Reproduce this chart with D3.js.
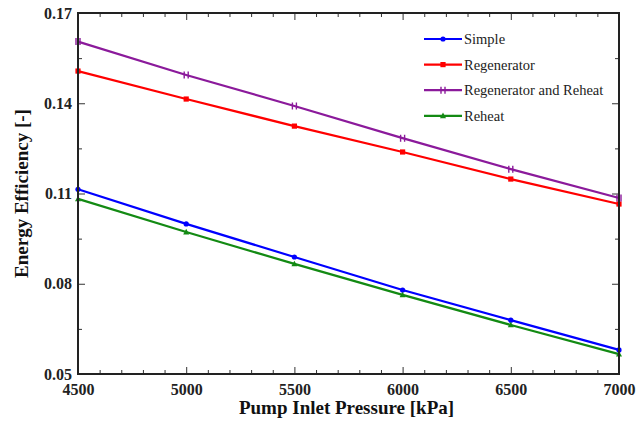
<!DOCTYPE html>
<html>
<head>
<meta charset="utf-8">
<script src="https://cdn.jsdelivr.net/npm/d3@7"></script>
<style>
  body { margin: 0; background: #fff; }
</style>
</head>
<body>
<svg id="chart" width="636" height="421"></svg>
<script>
// data
var pressure = [4500, 5000, 5500, 6000, 6500, 7000];
var simple = [0.1114, 0.0999, 0.0889, 0.0779, 0.0679, 0.0580];
var regenerator = [0.1507, 0.1414, 0.1324, 0.1238, 0.1148, 0.1065];
var regenReheat = [0.1605, 0.1494, 0.1391, 0.1284, 0.1181, 0.1085];
var reheat = [0.1082, 0.0972, 0.0866, 0.0763, 0.0663, 0.0566];
var yTicks = [0.05, 0.08, 0.11, 0.14, 0.17];
var xTicks = [4500, 5000, 5500, 6000, 6500, 7000];

var series = [
  {name: "Simple", values: simple, color: "#0000ff", marker: "circle"},
  {name: "Regenerator", values: regenerator, color: "#ff0000", marker: "square"},
  {name: "Regenerator and Reheat", values: regenReheat, color: "#8b1a9b", marker: "cross"},
  {name: "Reheat", values: reheat, color: "#138a13", marker: "triangle"}
];

var FONT = "'Liberation Serif', 'Times New Roman', Times, serif";

var svg = d3.select("#chart"),
    margin = {top: 13, right: 17, bottom: 47, left: 78},
    width = +svg.attr("width") - margin.left - margin.right,
    height = +svg.attr("height") - margin.top - margin.bottom,
    g = svg.append("g").attr("transform", "translate(" + margin.left + "," + margin.top + ")");

var x = d3.scaleLinear().domain([4500, 7000]).range([0, width]);
var y = d3.scaleLinear().domain([0.05, 0.17]).range([height, 0]);

var minorX = d3.range(4500, 7001, 100).filter(function(d) { return d % 500 !== 0; });
var minorY = d3.range(0.065, 0.17, 0.03);

// ticks on all four sides, pointing inward
function tickStyle(sel) {
  sel.select(".domain").remove();
  sel.selectAll("line").attr("stroke", "#333").attr("stroke-width", 1);
}
g.append("g").attr("transform", "translate(0," + height + ")")
    .call(d3.axisTop(x).tickValues(minorX).tickSize(4).tickFormat(""))
    .call(tickStyle);
g.append("g").attr("transform", "translate(0," + height + ")")
    .call(d3.axisTop(x).tickValues(xTicks).tickSize(7).tickFormat(""))
    .call(tickStyle);
g.append("g")
    .call(d3.axisBottom(x).tickValues(minorX).tickSize(4).tickFormat(""))
    .call(tickStyle);
g.append("g")
    .call(d3.axisBottom(x).tickValues(xTicks).tickSize(7).tickFormat(""))
    .call(tickStyle);
g.append("g")
    .call(d3.axisRight(y).tickValues(minorY).tickSize(4).tickFormat(""))
    .call(tickStyle);
g.append("g")
    .call(d3.axisRight(y).tickValues(yTicks).tickSize(7).tickFormat(""))
    .call(tickStyle);
g.append("g").attr("transform", "translate(" + width + ",0)")
    .call(d3.axisLeft(y).tickValues(minorY).tickSize(4).tickFormat(""))
    .call(tickStyle);
g.append("g").attr("transform", "translate(" + width + ",0)")
    .call(d3.axisLeft(y).tickValues(yTicks).tickSize(7).tickFormat(""))
    .call(tickStyle);

// tick labels
var xLab = g.append("g").attr("transform", "translate(0," + height + ")")
    .call(d3.axisBottom(x).tickValues(xTicks).tickSize(0).tickPadding(10).tickFormat(d3.format("d")));
xLab.attr("font-family", FONT).attr("font-size", 16);
xLab.select(".domain").remove();
xLab.selectAll("text").attr("font-weight", "bold").attr("fill", "#222");

var yLab = g.append("g")
    .call(d3.axisLeft(y).tickValues(yTicks).tickSize(0).tickPadding(6).tickFormat(d3.format(".2f")));
yLab.attr("font-family", FONT).attr("font-size", 16);
yLab.select(".domain").remove();
yLab.selectAll("text").attr("font-weight", "bold").attr("fill", "#222");

// lines
var line = d3.line()
    .x(function(d, i) { return x(pressure[i]); })
    .y(function(d) { return y(d); });

function drawMarker(sel, type, color) {
  if (type === "circle") {
    sel.append("circle").attr("r", 2.6).attr("fill", color);
  } else if (type === "square") {
    sel.append("rect").attr("x", -2.6).attr("y", -2.6).attr("width", 5.2).attr("height", 5.2).attr("fill", color);
  } else if (type === "triangle") {
    sel.append("path").attr("d", "M0,-3.2L3,2.4L-3,2.4Z").attr("fill", color);
  } else {
    sel.append("path").attr("d", "M-2,-3.5L-2,3.5M2,-3.5L2,3.5")
        .attr("stroke", color).attr("stroke-width", 1.4);
  }
}

series.forEach(function(s) {
  g.append("path")
      .datum(s.values)
      .attr("fill", "none")
      .attr("stroke", s.color)
      .attr("stroke-width", 2.2)
      .attr("d", line);
  g.selectAll(null)
      .data(s.values)
    .enter().append("g")
      .attr("transform", function(d, i) { return "translate(" + x(pressure[i]) + "," + y(d) + ")"; })
      .each(function() { drawMarker(d3.select(this), s.marker, s.color); });
});

// frame
g.append("rect")
    .attr("width", width).attr("height", height)
    .attr("fill", "none").attr("stroke", "#222").attr("stroke-width", 2);

// legend
var legend = g.append("g").attr("transform", "translate(" + (424 - margin.left) + "," + (39 - margin.top) + ")");
series.forEach(function(s, i) {
  var row = legend.append("g").attr("transform", "translate(0," + (i * 25.6) + ")");
  row.append("line").attr("x1", 0).attr("x2", 38).attr("y1", 0).attr("y2", 0)
      .attr("stroke", s.color).attr("stroke-width", 2.2);
  var m = row.append("g").attr("transform", "translate(19,0)");
  drawMarker(m, s.marker, s.color);
  row.append("text").attr("x", 40).attr("y", 0).attr("dy", "0.35em")
      .attr("font-family", FONT).attr("font-size", 14.5).attr("fill", "#222").text(s.name);
});

// axis titles
svg.append("text")
    .attr("x", margin.left + width / 2 - 2).attr("y", 414)
    .attr("text-anchor", "middle").attr("font-family", FONT)
    .attr("font-size", 19).attr("font-weight", "bold").attr("fill", "#111")
    .text("Pump Inlet Pressure [kPa]");
svg.append("text")
    .attr("transform", "translate(28," + (margin.top + height / 2) + ") rotate(-90)")
    .attr("text-anchor", "middle").attr("font-family", FONT)
    .attr("font-size", 19).attr("font-weight", "bold").attr("fill", "#111")
    .text("Energy Efficiency [-]");
</script>
</body>
</html>
